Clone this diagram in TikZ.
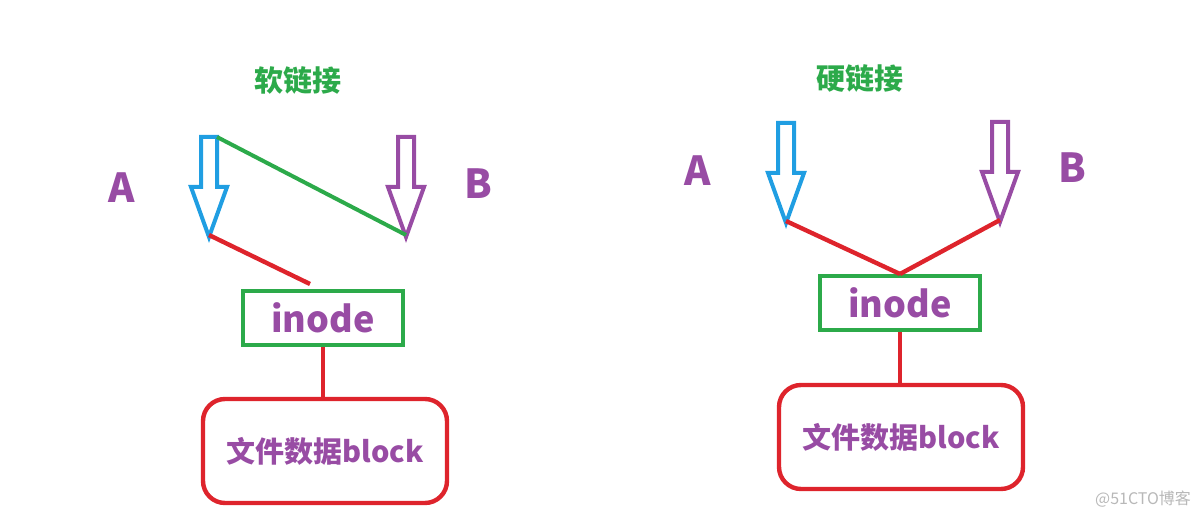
\documentclass[tikz,border=0pt]{standalone}
\usepackage{fontspec}
\setmainfont{Noto Sans CJK SC}
\usepackage{tikz}
\usetikzlibrary{positioning, calc}

\definecolor{linkgreen}{RGB}{44,170,74}
\definecolor{linkred}{RGB}{222,36,44}
\definecolor{linkblue}{RGB}{32,158,226}
\definecolor{linkpurple}{RGB}{152,76,164}

\begin{document}
\begin{tikzpicture}[
        x=0.5pt, y=-0.5pt,
        title/.style={text=linkgreen, font=\fontsize{14.5}{16}\selectfont\bfseries},
        letter/.style={text=linkpurple, font=\fontsize{20}{22}\selectfont\bfseries},
        inodebox/.style={rectangle, draw=linkgreen, line width=2pt, minimum width=80pt, minimum height=27pt, inner sep=0pt, text=linkpurple, font=\fontsize{18}{20}\selectfont\bfseries},
        blockbox/.style={rectangle, draw=linkred, line width=2.2pt, rounded corners=11pt, minimum width=122pt, minimum height=52pt, inner sep=0pt, text=linkpurple, font=\fontsize{14.5}{16}\selectfont\bfseries},
        link/.style={draw=linkred, line width=2.2pt},
        pics/downarrow/.style={code={
            \draw[line width=2pt, line join=miter] (-8,0) -- (8,0) -- (8,50) -- (18,50) -- (0,100) -- (-18,50) -- (-8,50) -- cycle;
            \coordinate (-tip) at (0,98);
            \coordinate (-corner) at (8,0);
        }}
    ]
        \useasboundingbox (0,0) rectangle (1202,518);

        % soft link
        \node[title] (ltitle) at (298,80) {软链接};
        \node[letter] (la) at (122,188) {A};
        \node[letter] (lb) at (478,184) {B};
        \pic[linkblue] (larrow) at (209,137) {downarrow};
        \pic[linkpurple] (lbarrow) at (406,137) {downarrow};
        \node[inodebox] (linode) at (323,318) {inode};
        \node[blockbox] (lblock) at (325,451) {文件数据block};

        \draw[draw=linkgreen, line width=2pt] (larrow-corner) -- (lbarrow-tip);
        \draw[link] (larrow-tip) -- ([xshift=-6.5pt, yshift=2.5pt]linode.north);
        \draw[link] (linode.south) -- (lblock.north -| linode.south);

        % hard link
        \node[title] (rtitle) at (860,78) {硬链接};
        \node[letter] (ra) at (698,171) {A};
        \node[letter] (rb) at (1072,168) {B};
        \pic[linkblue] (rarrow) at (786,123) {downarrow};
        \pic[linkpurple] (rbarrow) at (1000,122) {downarrow};
        \node[inodebox] (rinode) at (900,303) {inode};
        \node[blockbox] (rblock) at (901,437) {文件数据block};

        \draw[link] (rarrow-tip) -- (rinode.north);
        \draw[link] (rbarrow-tip) -- (rinode.north);
        \draw[link] (rinode.south) -- (rblock.north -| rinode.south);

        \node[text=black!28, font=\fontsize{8}{9}\selectfont] (mark) at (1143,499) {@51CTO博客};
    \end{tikzpicture}
\end{document}
